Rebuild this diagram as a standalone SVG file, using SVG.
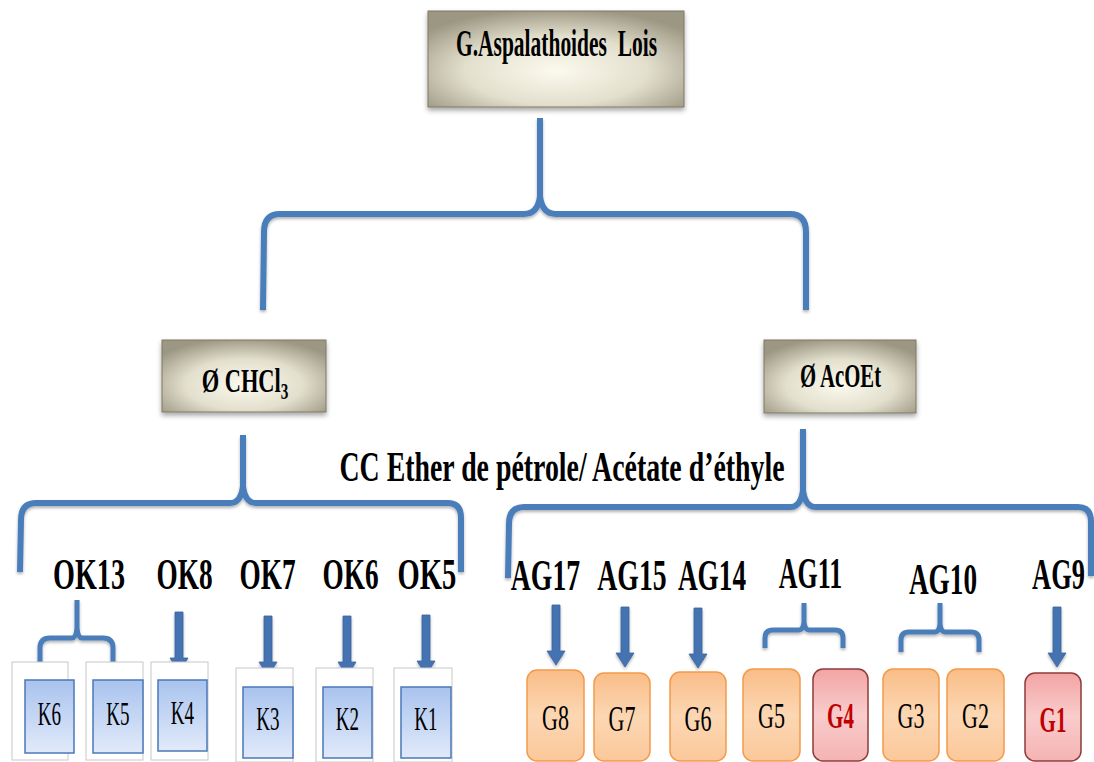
<svg xmlns="http://www.w3.org/2000/svg" width="1094" height="762" viewBox="0 0 1094 762">
  <defs>
    <radialGradient id="grayG" cx="50%" cy="62%" r="65%">
      <stop offset="0" stop-color="#fcfaee"/>
      <stop offset="0.55" stop-color="#e2dfcd"/>
      <stop offset="1" stop-color="#9c9782"/>
    </radialGradient>
    <linearGradient id="blueG" x1="0" y1="0" x2="0" y2="1">
      <stop offset="0" stop-color="#a9c3ee"/>
      <stop offset="1" stop-color="#e1eafa"/>
    </linearGradient>
    <linearGradient id="orangeG" x1="0" y1="0" x2="0" y2="1">
      <stop offset="0" stop-color="#f9bd88"/>
      <stop offset="0.5" stop-color="#fcd7b3"/>
      <stop offset="1" stop-color="#fbc89a"/>
    </linearGradient>
    <linearGradient id="pinkG" x1="0" y1="0" x2="0" y2="1">
      <stop offset="0" stop-color="#f3a4a4"/>
      <stop offset="0.5" stop-color="#f9cccc"/>
      <stop offset="1" stop-color="#f5b3b3"/>
    </linearGradient>
    <filter id="shadow" x="-10%" y="-10%" width="120%" height="140%">
      <feDropShadow dx="0" dy="3" stdDeviation="2.5" flood-color="#000" flood-opacity="0.35"/>
    </filter>
    <filter id="lshadow" x="-10%" y="-10%" width="120%" height="130%">
      <feDropShadow dx="0" dy="2" stdDeviation="1.5" flood-color="#000" flood-opacity="0.3"/>
    </filter>
    <path id="arr" d="M-4,-60 L4,-60 L4,-14 L9,-14 L0,0 L-9,-14 L-4,-14 Z"/>
    <style>
      .gray { fill: url(#grayG); stroke: #7d7965; stroke-width: 1; filter: url(#shadow); }
      .title { font-family: "Liberation Serif", "Times New Roman", serif; font-weight: bold; fill: #000; text-anchor: middle; }
      .lbl { font-family: "Liberation Serif", "Times New Roman", serif; font-weight: bold; font-size: 44px; fill: #000; text-anchor: middle; }
      .ktxt { font-family: "Liberation Serif", "Times New Roman", serif; font-size: 34px; fill: #000; text-anchor: middle; }
      .gtxt { font-family: "Liberation Serif", "Times New Roman", serif; font-size: 35px; fill: #000; text-anchor: middle; }
      .red { fill: #c00000; font-weight: bold; }
      .outer { fill: #fff; stroke: #c8c8c8; stroke-width: 1; }
      .kbox { fill: url(#blueG); stroke: #4a78b8; stroke-width: 1.5; }
      .gbox { fill: url(#orangeG); stroke: #f39a4a; stroke-width: 1.5; }
      .pbox { fill: url(#pinkG); stroke: #8e3b3b; stroke-width: 1.5; }
      .brace { fill: none; stroke: #4a7ebb; stroke-width: 6; stroke-linejoin: round; filter: url(#lshadow); }
      .sbrace { fill: none; stroke: #4a7ebb; stroke-width: 5; stroke-linejoin: round; filter: url(#lshadow); }
      .arrow { fill: #4472b0; stroke: #3a65a0; stroke-width: 0.8; filter: url(#lshadow); }
    </style>
  </defs>

  <rect width="1094" height="762" fill="#fff"/>

  <!-- connectors -->
  <g id="connectors">
    <path class="brace" d="M263,310 L264,232 Q264,214 280,214 L524,214 Q538,214 540,196 L540,118 M540,196 Q542,214 556,214 L790,214 Q806,214 806,232 L806,310"/>
    <path class="brace" d="M20,572 L21,520 Q21,503 36,503 L230,503 Q241,503 243,486 L243,435 M243,486 Q245,503 256,503 L448,503 Q461,503 461,518 L461,572"/>
    <path class="brace" d="M508,578 L509,524 Q509,507 524,507 L790,507 Q801,507 803,490 L803,429 M803,490 Q805,507 816,507 L1078,507 Q1091,507 1091,522 L1091,576"/>
    <path class="sbrace" d="M40,672 L40,648 Q40,638 50,638 L72,638 Q76,638 77,628 L77,600 M77,628 Q78,638 82,638 L103,638 Q113,638 113,648 L113,672"/>
    <path class="sbrace" d="M765,648 L765,638 Q765,630 773,630 L799,630 Q803,630 804,622 L804,603 M804,622 Q805,630 809,630 L835,630 Q843,630 843,638 L843,648"/>
    <path class="sbrace" d="M901,652 L901,640 Q901,632 909,632 L935,632 Q939,632 940,624 L940,603 M940,624 Q941,632 945,632 L971,632 Q979,632 979,640 L979,652"/>
    <use href="#arr" class="arrow" x="179" y="672"/>
    <use href="#arr" class="arrow" x="268" y="676"/>
    <use href="#arr" class="arrow" x="347" y="676"/>
    <use href="#arr" class="arrow" x="426" y="675"/>
    <use href="#arr" class="arrow" x="556" y="665"/>
    <use href="#arr" class="arrow" x="625" y="667"/>
    <use href="#arr" class="arrow" x="698" y="668"/>
    <use href="#arr" class="arrow" x="1057" y="667"/>
  </g>

  <!-- top node -->
  <g id="node-root">
    <rect class="gray" x="428" y="11" width="256" height="96"/>
    <text class="title" font-size="38" transform="translate(556.5,56) scale(0.565,1)" xml:space="preserve">G.Aspalathoides  Lois</text>
  </g>

  <g id="node-chcl3">
    <rect class="gray" x="162" y="340" width="164" height="72"/>
    <text class="title" font-size="34" transform="translate(245,392) scale(0.66,1)">Ø CHCl<tspan font-size="23" dy="7">3</tspan></text>
  </g>

  <g id="node-acoet">
    <rect class="gray" x="764" y="340" width="152" height="73"/>
    <text class="title" font-size="34" transform="translate(840.5,387) scale(0.61,1)">Ø AcOEt</text>
  </g>

  <g id="label-cc">
    <text class="title" font-size="42" transform="translate(562,481) scale(0.663,1)">CC Ether de pétrole/ Acétate d’éthyle</text>
  </g>

  <!-- fraction labels -->
  <g id="labels-ok">
    <text class="lbl" transform="translate(89,589) scale(0.64,1)">OK13</text>
    <text class="lbl" transform="translate(184.5,589) scale(0.62,1)">OK8</text>
    <text class="lbl" transform="translate(267.5,589) scale(0.62,1)">OK7</text>
    <text class="lbl" transform="translate(350.5,589) scale(0.62,1)">OK6</text>
    <text class="lbl" transform="translate(427,589) scale(0.65,1)">OK5</text>
  </g>
  <g id="labels-ag">
    <text class="lbl" transform="translate(545.5,590) scale(0.63,1)">AG17</text>
    <text class="lbl" transform="translate(632,590) scale(0.63,1)">AG15</text>
    <text class="lbl" transform="translate(712,590) scale(0.62,1)">AG14</text>
    <text class="lbl" transform="translate(810.5,588) scale(0.59,1)">AG11</text>
    <text class="lbl" transform="translate(943,594) scale(0.62,1)">AG10</text>
    <text class="lbl" transform="translate(1058.5,589) scale(0.6,1)">AG9</text>
  </g>

  <!-- K nodes -->
  <g id="node-K6">
    <rect class="outer" x="12" y="662" width="56" height="98"/>
    <rect class="kbox" x="25" y="680" width="49" height="73"/>
    <text class="ktxt" transform="translate(49.5,725) scale(0.56,1)">K6</text>
  </g>
  <g id="node-K5">
    <rect class="outer" x="86" y="662" width="57" height="98"/>
    <rect class="kbox" x="93" y="680" width="50" height="73"/>
    <text class="ktxt" transform="translate(118,725) scale(0.56,1)">K5</text>
  </g>
  <g id="node-K4">
    <rect class="outer" x="151" y="662" width="57" height="98"/>
    <rect class="kbox" x="158" y="680" width="49" height="71"/>
    <text class="ktxt" transform="translate(182.5,724) scale(0.56,1)">K4</text>
  </g>
  <g id="node-K3">
    <rect class="outer" x="236" y="668" width="57" height="94"/>
    <rect class="kbox" x="243" y="687" width="50" height="71"/>
    <text class="ktxt" transform="translate(268,730) scale(0.56,1)">K3</text>
  </g>
  <g id="node-K2">
    <rect class="outer" x="316" y="668" width="57" height="94"/>
    <rect class="kbox" x="323" y="687" width="49" height="71"/>
    <text class="ktxt" transform="translate(347.5,730) scale(0.56,1)">K2</text>
  </g>
  <g id="node-K1">
    <rect class="outer" x="394" y="668" width="58" height="94"/>
    <rect class="kbox" x="401" y="687" width="50" height="71"/>
    <text class="ktxt" transform="translate(426,730) scale(0.56,1)">K1</text>
  </g>

  <!-- G nodes -->
  <g id="node-G8">
    <rect class="gbox" x="527" y="670" width="57" height="91" rx="10"/>
    <text class="gtxt" transform="translate(555.5,730) scale(0.63,1)">G8</text>
  </g>
  <g id="node-G7">
    <rect class="gbox" x="594" y="673" width="56" height="88" rx="10"/>
    <text class="gtxt" transform="translate(622,731) scale(0.63,1)">G7</text>
  </g>
  <g id="node-G6">
    <rect class="gbox" x="670" y="672" width="56" height="89" rx="10"/>
    <text class="gtxt" transform="translate(698,731) scale(0.63,1)">G6</text>
  </g>
  <g id="node-G5">
    <rect class="gbox" x="743" y="669" width="57" height="92" rx="10"/>
    <text class="gtxt" transform="translate(771.5,728) scale(0.63,1)">G5</text>
  </g>
  <g id="node-G4">
    <rect class="pbox" x="813" y="669" width="55" height="92" rx="10"/>
    <text class="gtxt red" transform="translate(840.5,728) scale(0.6,1)">G4</text>
  </g>
  <g id="node-G3">
    <rect class="gbox" x="883" y="669" width="56" height="92" rx="10"/>
    <text class="gtxt" transform="translate(911,728) scale(0.63,1)">G3</text>
  </g>
  <g id="node-G2">
    <rect class="gbox" x="947" y="669" width="57" height="92" rx="10"/>
    <text class="gtxt" transform="translate(975.5,728) scale(0.63,1)">G2</text>
  </g>
  <g id="node-G1">
    <rect class="pbox" x="1025" y="673" width="56" height="88" rx="10"/>
    <text class="gtxt red" transform="translate(1053,732) scale(0.6,1)">G1</text>
  </g>
</svg>
